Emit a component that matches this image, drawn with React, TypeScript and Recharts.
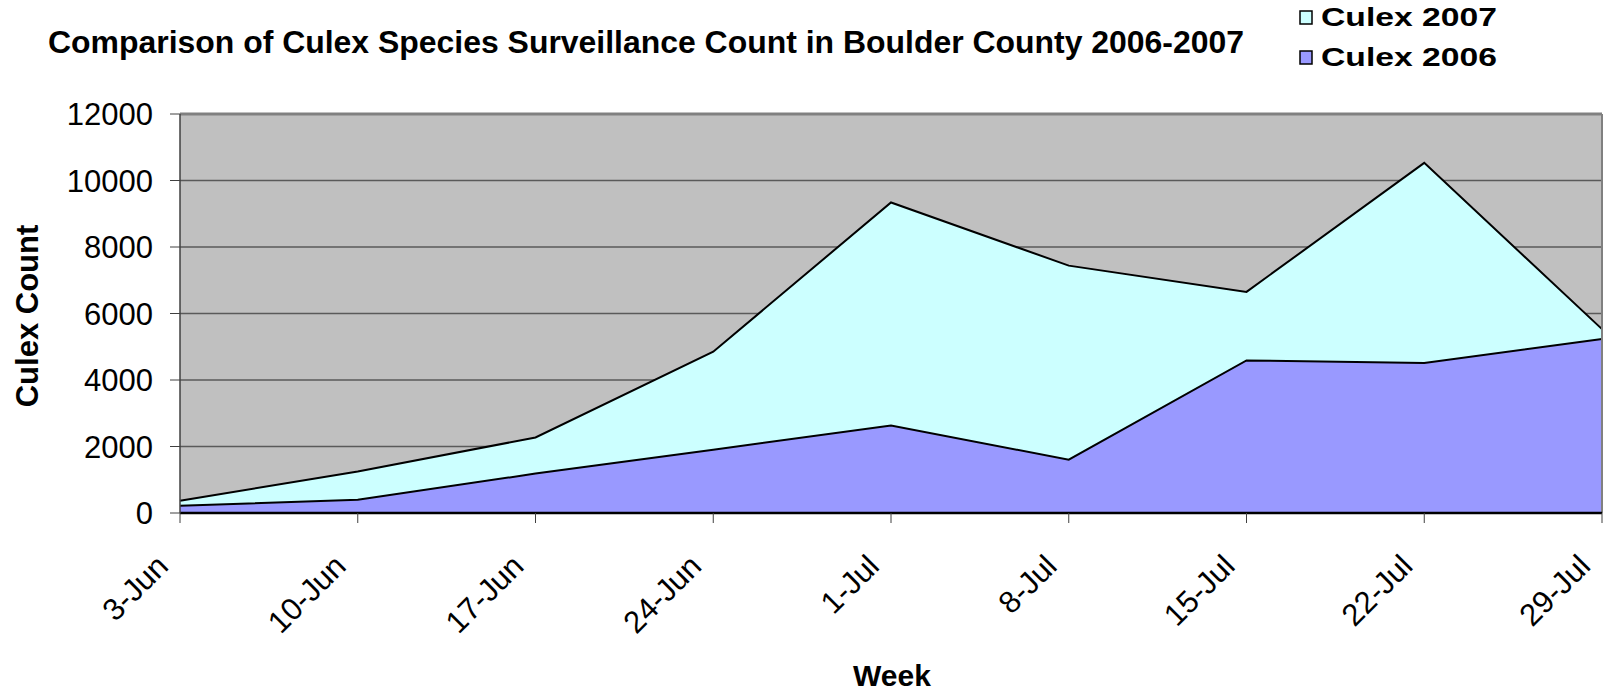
import React from 'react';
import { AreaChart, Area, XAxis, YAxis, CartesianGrid, ReferenceLine } from 'recharts';

const categories = ['3-Jun', '10-Jun', '17-Jun', '24-Jun', '1-Jul', '8-Jul', '15-Jul', '22-Jul', '29-Jul'];
const culex2007 = [370, 1250, 2270, 4850, 9340, 7440, 6650, 10530, 5530];
const culex2006 = [220, 400, 1185, 1905, 2630, 1605, 4590, 4510, 5230];
const yTicks = [0, 2000, 4000, 6000, 8000, 10000, 12000];

const data = categories.map((week, i) => ({ week, c2007: culex2007[i], c2006: culex2006[i] }));

const FONT = 'Arial, "Liberation Sans", sans-serif';

const XTick = (props: any) => {
  const { x, y, payload } = props;
  const bx = x - 10;
  const by = y + 45;
  return (
    <text
      x={bx}
      y={by}
      textAnchor="end"
      transform={`rotate(-45, ${bx}, ${by})`}
      fontFamily={FONT}
      fontSize={31}
      fill="#000"
    >
      {payload.value}
    </text>
  );
};

const YTick = (props: any) => {
  const { x, y, payload } = props;
  return (
    <text x={x} y={y + 11} textAnchor="end" fontFamily={FONT} fontSize={31} fill="#000">
      {payload.value}
    </text>
  );
};

export default function App() {
  return (
    <div style={{ position: 'absolute', left: 0, top: 0, width: 1605, height: 695, background: '#fff' }}>
      <AreaChart
        width={1605}
        height={695}
        data={data}
        margin={{ top: 114, right: 3, bottom: 82, left: 80 }}
      >
        <CartesianGrid horizontal vertical={false} stroke="#5a5a5a" strokeWidth={1.5} fill="#C0C0C0" fillOpacity={1} />
        <XAxis
          dataKey="week"
          height={100}
          interval={0}
          tick={<XTick />}
          tickSize={10}
          tickMargin={0}
          tickLine={{ stroke: '#404040', strokeWidth: 1 }}
          axisLine={false}
        />
        <YAxis
          width={100}
          domain={[0, 12000]}
          ticks={yTicks}
          interval={0}
          tick={<YTick />}
          tickSize={10}
          tickMargin={17}
          tickLine={{ stroke: '#404040', strokeWidth: 1 }}
          axisLine={{ stroke: '#404040', strokeWidth: 1.5 }}
        />
        <Area
          type="linear"
          dataKey="c2007"
          name="Culex 2007"
          stroke="#000"
          strokeWidth={2}
          fill="#CCFFFF"
          fillOpacity={1}
          dot={false}
          activeDot={false}
          isAnimationActive={false}
        />
        <Area
          type="linear"
          dataKey="c2006"
          name="Culex 2006"
          stroke="#000"
          strokeWidth={2}
          fill="#9999FF"
          fillOpacity={1}
          dot={false}
          activeDot={false}
          isAnimationActive={false}
        />
        <ReferenceLine y={12000} stroke="#808080" strokeWidth={3} />
        <ReferenceLine x="29-Jul" stroke="#808080" strokeWidth={2} />
        <ReferenceLine y={0} stroke="#000" strokeWidth={2.5} />
      </AreaChart>
      <svg
        width={1605}
        height={695}
        style={{ position: 'absolute', left: 0, top: 0, pointerEvents: 'none' }}
      >
        <text x={48} y={53} fontFamily={FONT} fontWeight="bold" fontSize={31} fill="#000" textLength={1196} lengthAdjust="spacingAndGlyphs">
          Comparison of Culex Species Surveillance Count in Boulder County 2006-2007
        </text>
        <rect x={1300} y={11} width={12} height={13} fill="#CCFFFF" stroke="#000" strokeWidth={1.5} />
        <text x={1321} y={26} fontFamily={FONT} fontWeight="bold" fontSize={26} fill="#000" textLength={176} lengthAdjust="spacingAndGlyphs">
          Culex 2007
        </text>
        <rect x={1300} y={51} width={12} height={13} fill="#9999FF" stroke="#000" strokeWidth={1.5} />
        <text x={1321} y={66} fontFamily={FONT} fontWeight="bold" fontSize={26} fill="#000" textLength={176} lengthAdjust="spacingAndGlyphs">
          Culex 2006
        </text>
        <text
          x={38}
          y={316}
          transform="rotate(-90, 38, 316)"
          textAnchor="middle"
          fontFamily={FONT}
          fontWeight="bold"
          fontSize={31}
          fill="#000"
        >
          Culex Count
        </text>
        <text x={892} y={686} textAnchor="middle" fontFamily={FONT} fontWeight="bold" fontSize={30} fill="#000">
          Week
        </text>
      </svg>
    </div>
  );
}
